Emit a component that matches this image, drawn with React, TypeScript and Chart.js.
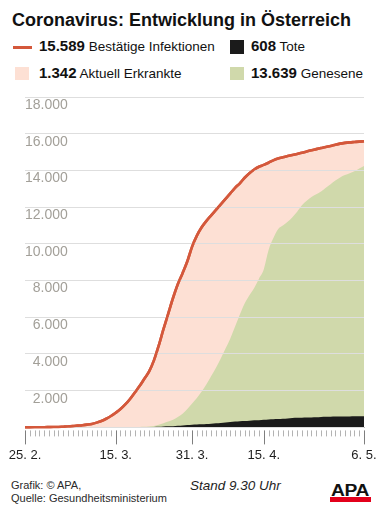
import React, { useEffect, useRef } from 'react';
import { Chart, registerables } from 'chart.js';

Chart.register(...registerables);

const dates = [
  '25. 2.', '26. 2.', '27. 2.', '28. 2.', '29. 2.',
  '1. 3.', '2. 3.', '3. 3.', '4. 3.', '5. 3.', '6. 3.', '7. 3.', '8. 3.', '9. 3.', '10. 3.',
  '11. 3.', '12. 3.', '13. 3.', '14. 3.', '15. 3.', '16. 3.', '17. 3.', '18. 3.', '19. 3.', '20. 3.',
  '21. 3.', '22. 3.', '23. 3.', '24. 3.', '25. 3.', '26. 3.', '27. 3.', '28. 3.', '29. 3.', '30. 3.', '31. 3.',
  '1. 4.', '2. 4.', '3. 4.', '4. 4.', '5. 4.', '6. 4.', '7. 4.', '8. 4.', '9. 4.', '10. 4.',
  '11. 4.', '12. 4.', '13. 4.', '14. 4.', '15. 4.', '16. 4.', '17. 4.', '18. 4.', '19. 4.', '20. 4.',
  '21. 4.', '22. 4.', '23. 4.', '24. 4.', '25. 4.', '26. 4.', '27. 4.', '28. 4.', '29. 4.', '30. 4.',
  '1. 5.', '2. 5.', '3. 5.', '4. 5.', '5. 5.', '6. 5.',
];

const majorDates = ['25. 2.', '15. 3.', '31. 3.', '15. 4.', '6. 5.'];

// Bestätigte Infektionen (cumulative)
const infections = [
  2, 3, 5, 8, 10, 14, 18, 24, 37, 50,
  70, 95, 120, 150, 190, 260, 350, 470, 620, 800,
  1000, 1250, 1550, 1900, 2250, 2650, 3050, 3650, 4450, 5350,
  6200, 7050, 7800, 8400, 9050, 9850, 10450, 10900, 11250, 11550,
  11850, 12150, 12450, 12750, 13050, 13300, 13600, 13850, 14050, 14200,
  14300, 14420, 14550, 14650, 14720, 14780, 14840, 14900, 14960, 15030,
  15100, 15160, 15220, 15280, 15330, 15400, 15460, 15500, 15530, 15550,
  15570, 15589,
];

// Genesene (cumulative)
const recovered = [
  0, 0, 0, 0, 0, 0, 0, 0, 0, 0,
  0, 0, 0, 0, 2, 4, 6, 6, 7, 8,
  9, 9, 9, 9, 12, 14, 29, 52, 120, 181,
  262, 352, 474, 642, 872, 1154, 1442, 1782, 2164, 2596,
  3030, 3507, 4027, 4555, 5181, 5813, 6400, 6832, 7216, 7707,
  8190, 9219, 9857, 10348, 10530, 10709, 10940, 11228, 11570, 11814,
  12008, 12151, 12281, 12470, 12666, 12861, 13024, 13152, 13250, 13344,
  13494, 13639,
];

// Tote (cumulative)
const deaths = [
  0, 0, 0, 0, 0, 0, 0, 0, 0, 0,
  0, 0, 0, 0, 0, 0, 0, 1, 1, 1,
  3, 4, 5, 6, 8, 16, 21, 28, 30, 49,
  58, 68, 86, 108, 128, 146, 158, 168, 186, 204,
  220, 243, 273, 295, 319, 337, 350, 368, 384, 393,
  410, 431, 443, 452, 470, 491, 510, 522, 530, 536,
  542, 549, 569, 580, 584, 589, 596, 598, 600, 606,
  606, 608,
];

const FONT = '"Liberation Sans", Arial, Helvetica, sans-serif';
const RED = '#d4583b';
const PINK = '#fde0d4';
const GREEN = '#d0d9ab';
const BLACK = '#1b1b1b';

function fmt(v: number): string {
  const n = Math.round(v);
  if (n >= 1000) return `${Math.floor(n / 1000)}.${String(n % 1000).padStart(3, '0')}`;
  return String(n);
}

const last = dates.length - 1;
const totalNow = infections[last];
const deadNow = deaths[last];
const recNow = recovered[last];
const activeNow = totalNow - deadNow - recNow;

const axisTicks = {
  id: 'axisTicks',
  afterDraw(chart: any) {
    const xs = chart.scales.x;
    const ctx = chart.ctx;
    const top = xs.top;
    ctx.save();
    ctx.lineWidth = 1;
    dates.forEach((d, i) => {
      const px = Math.round(xs.getPixelForValue(i)) + 0.5;
      const major = majorDates.includes(d);
      ctx.strokeStyle = major ? '#7e7e7e' : '#b3b3b3';
      ctx.beginPath();
      ctx.moveTo(px, top + 3);
      ctx.lineTo(px, top + (major ? 17 : 9));
      ctx.stroke();
    });
    ctx.restore();
  },
};

const lineOnTop = {
  id: 'lineOnTop',
  afterDraw(chart: any) {
    const meta = chart.getDatasetMeta(0);
    if (meta && meta.controller) {
      chart.ctx.save();
      meta.controller.draw();
      chart.ctx.restore();
    }
  },
};

function Txt(props: {
  left: number;
  baseline: number;
  size: number;
  weight?: string | number;
  italic?: boolean;
  color?: string;
  children: React.ReactNode;
  extra?: React.CSSProperties;
}) {
  const { left, baseline, size, weight, italic, color, children, extra } = props;
  return (
    <div
      style={{
        position: 'absolute',
        left,
        top: baseline - 0.8465 * size,
        fontSize: size,
        lineHeight: `${size}px`,
        fontWeight: weight ?? 'normal',
        fontStyle: italic ? 'italic' : 'normal',
        color: color ?? '#1a1a1a',
        whiteSpace: 'nowrap',
        fontFamily: FONT,
        ...extra,
      }}
    >
      {children}
    </div>
  );
}

export default function App() {
  const canvasRef = useRef<HTMLCanvasElement | null>(null);

  useEffect(() => {
    const canvas = canvasRef.current;
    if (!canvas) return;
    const stackedRecovered = recovered.map((r, i) => r + deaths[i]);
    const chart = new Chart(canvas, {
      type: 'line',
      data: {
        labels: dates,
        datasets: [
          {
            label: 'Bestätige Infektionen',
            data: infections,
            borderColor: RED,
            borderWidth: 2.6,
            pointRadius: 0,
            fill: false,
            cubicInterpolationMode: 'monotone',
            order: 0,
          },
          {
            label: 'Aktuell Erkrankte',
            data: infections,
            borderColor: 'transparent',
            borderWidth: 0,
            backgroundColor: PINK,
            pointRadius: 0,
            fill: 'origin',
            cubicInterpolationMode: 'monotone',
            order: 3,
          },
          {
            label: 'Genesene',
            data: stackedRecovered,
            borderColor: 'transparent',
            borderWidth: 0,
            backgroundColor: GREEN,
            pointRadius: 0,
            fill: 'origin',
            cubicInterpolationMode: 'monotone',
            order: 2,
          },
          {
            label: 'Tote',
            data: deaths,
            borderColor: 'transparent',
            borderWidth: 0,
            backgroundColor: BLACK,
            pointRadius: 0,
            fill: 'origin',
            cubicInterpolationMode: 'monotone',
            order: 1,
          },
        ],
      },
      options: {
        responsive: false,
        animation: false,
        devicePixelRatio: 1,
        layout: { padding: { left: 25, right: 18, top: 17, bottom: 0 } },
        plugins: {
          legend: { display: false },
          tooltip: { enabled: false },
        },
        scales: {
          x: {
            type: 'category',
            offset: false,
            grid: {
              display: true,
              drawOnChartArea: false,
              drawTicks: true,
              tickLength: 20,
              tickColor: 'transparent',
              color: 'transparent',
            },
            border: { display: true, color: '#b8b8b8', width: 1, z: 1 },
            ticks: {
              autoSkip: false,
              maxRotation: 0,
              minRotation: 0,
              padding: 0,
              color: '#1e1e1e',
              font: { family: FONT, size: 13 },
              callback: (_v: any, index: number) =>
                majorDates.includes(dates[index]) ? dates[index] : '',
            },
          },
          y: {
            min: 0,
            max: 18000,
            afterFit: (scale: any) => {
              scale.width = 0;
            },
            grid: { color: '#dedede', lineWidth: 1, drawTicks: false, z: 1 },
            border: { display: false },
            ticks: {
              stepSize: 1000,
              mirror: true,
              crossAlign: 'far',
              padding: 0,
              labelOffset: 8,
              color: '#a29f98',
              font: { family: FONT, size: 14 },
              callback: (v: any) => {
                const n = Number(v);
                return n > 0 && n % 2000 === 0 ? fmt(n) : '';
              },
            },
          },
        },
      },
      plugins: [axisTicks, lineOnTop],
    } as any);
    return () => chart.destroy();
  }, []);

  return (
    <div
      style={{
        position: 'absolute',
        left: 0,
        top: 0,
        width: 382,
        height: 512,
        background: '#ffffff',
        overflow: 'hidden',
        fontFamily: FONT,
      }}
    >
      <Txt left={12} baseline={26} size={18} weight="bold" color="#111">
        Coronavirus: Entwicklung in Österreich
      </Txt>

      <div style={{ position: 'absolute', left: 13, top: 45.5, width: 19, height: 3, background: RED }} />
      <Txt left={39} baseline={50.7} size={15} weight="bold" color="#111">
        {fmt(totalNow)}
        <span style={{ fontWeight: 'normal', fontSize: 13.5 }}> Bestätige Infektionen</span>
      </Txt>
      <div style={{ position: 'absolute', left: 230, top: 40, width: 14, height: 14, background: BLACK }} />
      <Txt left={251} baseline={50.7} size={15} weight="bold" color="#111">
        {fmt(deadNow)}
        <span style={{ fontWeight: 'normal', fontSize: 13.5 }}> Tote</span>
      </Txt>

      <div style={{ position: 'absolute', left: 15, top: 67, width: 14, height: 13, background: PINK }} />
      <Txt left={39} baseline={77.3} size={15} weight="bold" color="#111">
        {fmt(activeNow)}
        <span style={{ fontWeight: 'normal', fontSize: 13.5 }}> Aktuell Erkrankte</span>
      </Txt>
      <div style={{ position: 'absolute', left: 230, top: 67, width: 14, height: 13, background: GREEN }} />
      <Txt left={251} baseline={77.3} size={15} weight="bold" color="#111">
        {fmt(recNow)}
        <span style={{ fontWeight: 'normal', fontSize: 13.5 }}> Genesene</span>
      </Txt>

      <canvas
        ref={canvasRef}
        width={382}
        height={383}
        style={{ position: 'absolute', left: 0, top: 80, width: 382, height: 383 }}
      />

      <Txt left={11} baseline={489} size={11} color="#2a2a2a">
        Grafik: © APA,
      </Txt>
      <Txt left={11} baseline={502.5} size={11} color="#2a2a2a">
        Quelle: Gesundheitsministerium
      </Txt>
      <Txt left={190} baseline={490} size={13.5} italic color="#1e1e1e">
        Stand 9.30 Uhr
      </Txt>

      <Txt
        left={331}
        baseline={497}
        size={16}
        weight={900}
        color="#111"
        extra={{ transform: 'scaleX(1.2)', transformOrigin: 'left center', letterSpacing: -0.3 }}
      >
        APA
      </Txt>
      <div style={{ position: 'absolute', left: 330, top: 497, width: 41, height: 5, background: '#e3001b' }} />
    </div>
  );
}
